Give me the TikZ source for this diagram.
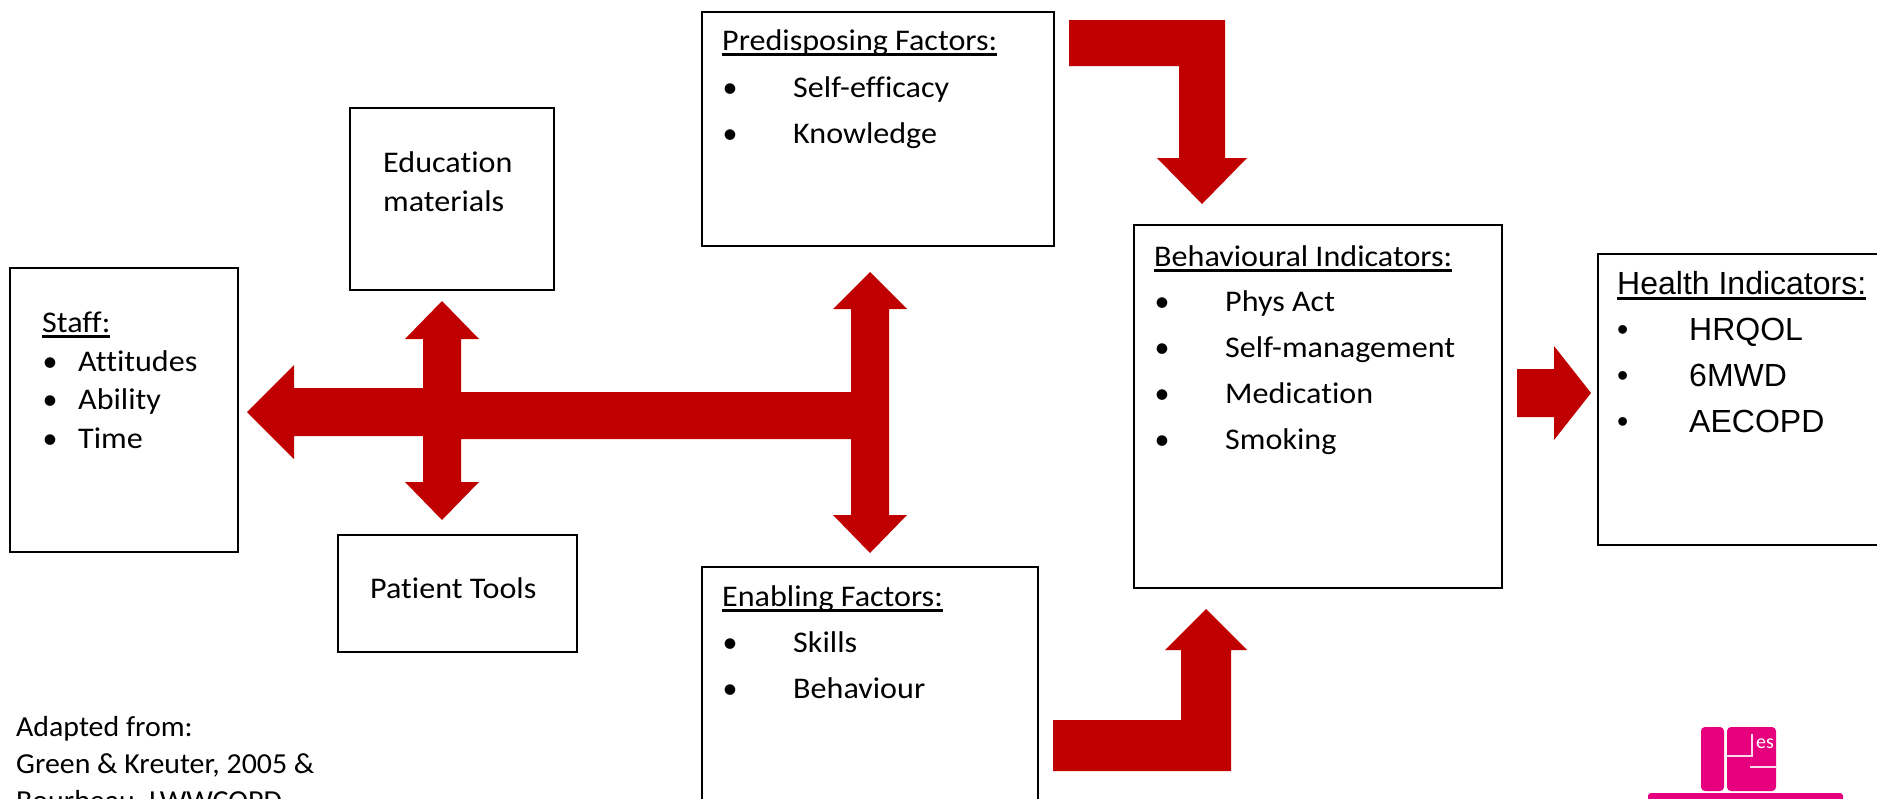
\documentclass[tikz,border=0pt]{standalone}
\usepackage{fontspec}
\setmainfont{Carlito}
\newfontfamily\bodyf[FakeStretch=1.07,Ligatures=NoCommon]{Carlito}
\newfontfamily\notef[FakeStretch=1.03,Ligatures=NoCommon]{Carlito}
\newfontfamily\arialf{Liberation Sans}
\definecolor{arrowred}{HTML}{C00000}
\definecolor{logopink}{HTML}{E6007E}
\newcommand{\ulbl}[1]{\setbox0\hbox{#1}\rlap{\vrule width\wd0 height -2.4pt depth 5.2pt}#1}
\tikzset{
  boxnode/.style={draw=black,line width=1.8pt,outer sep=0pt,fill=white,anchor=north west,inner sep=0pt},
  lbl/.style={anchor=base west,inner sep=0pt,yshift=-0.8pt,font=\bodyf\fontsize{30}{36}\selectfont},
  bul/.style={anchor=base west,inner sep=0pt,xshift=0.5pt,yshift=-0.8pt,font=\fontsize{30}{36}\selectfont},
  note/.style={anchor=base west,inner sep=0pt,font=\notef\fontsize{29}{35}\selectfont},
  hlbl/.style={anchor=base west,inner sep=0pt,yshift=-0.8pt,font=\arialf\fontsize{32}{38}\selectfont},
  hbul/.style={anchor=base west,inner sep=0pt,yshift=-0.8pt,font=\arialf\fontsize{32}{38}\selectfont},
  redshape/.style={fill=arrowred,draw=none},
  pink/.style={fill=logopink,draw=none,rounded corners=4pt},
  logoline/.style={draw=white!85!logopink,line width=1.2pt}
}
\newcommand{\boxat}[5]{\node[boxnode,minimum width=#4pt,minimum height=#5pt] (#1) at (#2,#3) {};}
\begin{document}
\begin{tikzpicture}[x=1pt,y=-1pt]
\useasboundingbox (0,0) rectangle (1877,798);
\clip (0,0) rectangle (1877,798);
% boxes
\boxat{staff}{10}{268}{228}{284}
\boxat{edu}{350}{108}{204}{182}
\boxat{tools}{338}{535}{239}{117}
\boxat{pre}{702}{12}{352}{234}
\boxat{ena}{702}{567}{336}{300}
\boxat{beh}{1134}{225}{368}{363}
\boxat{hea}{1598}{254}{320}{291}
% arrows
\fill[redshape] (247,412) -- (294,365) -- (294,388) -- (423,388) -- (423,339) -- (405,339) -- (442,301) -- (479,339) -- (461,339) -- (461,392) -- (851,392) -- (851,309) -- (833,309) -- (870,272) -- (907,309) -- (889,309) -- (889,515) -- (907,515) -- (870,553) -- (833,515) -- (851,515) -- (851,439) -- (461,439) -- (461,482) -- (479,482) -- (442,520) -- (405,482) -- (423,482) -- (423,436) -- (294,436) -- (294,459) -- cycle;
\fill[redshape] (1069,20) -- (1225,20) -- (1225,158) -- (1247,158) -- (1202,204) -- (1157,158) -- (1179,158) -- (1179,66) -- (1069,66) -- cycle;
\fill[redshape] (1053,771) -- (1231,771) -- (1231,650) -- (1247,650) -- (1206,609) -- (1165,650) -- (1181,650) -- (1181,720) -- (1053,720) -- cycle;
\fill[redshape] (1517,369) -- (1554,369) -- (1554,346) -- (1591,393) -- (1554,440) -- (1554,417) -- (1517,417) -- cycle;
% staff
\node[lbl] (t1) at (42,332) {\ulbl{Staff:}};
\node[bul] (t1a) at (42,371) {•};
\node[lbl] (t1b) at (78,371) {Attitudes};
\node[bul] (t1c) at (42,409) {•};
\node[lbl] (t1d) at (78,409) {Ability};
\node[bul] (t1e) at (42,448) {•};
\node[lbl] (t1f) at (78,448) {Time};
% education
\node[lbl] (t2) at (383,172) {Education};
\node[lbl] (t2a) at (383,211) {materials};
\node[lbl] (t3) at (370,598) {Patient Tools};
% predisposing
\node[lbl] (t4) at (722,50) {\ulbl{Predisposing Factors:}};
\node[bul] (t4a) at (722,97) {•};
\node[lbl] (t4b) at (793,97) {Self-efficacy};
\node[bul] (t4c) at (722,143) {•};
\node[lbl] (t4d) at (793,143) {Knowledge};
% enabling
\node[lbl] (t5) at (722,606) {\ulbl{Enabling Factors:}};
\node[bul] (t5a) at (722,652) {•};
\node[lbl] (t5b) at (793,652) {Skills};
\node[bul] (t5c) at (722,698) {•};
\node[lbl] (t5d) at (793,698) {Behaviour};
% behavioural
\node[lbl] (t6) at (1154,266) {\ulbl{Behavioural Indicators:}};
\node[bul] (t6a) at (1154,311) {•};
\node[lbl] (t6b) at (1225,311) {Phys Act};
\node[bul] (t6c) at (1154,357) {•};
\node[lbl] (t6d) at (1225,357) {Self-management};
\node[bul] (t6e) at (1154,403) {•};
\node[lbl] (t6f) at (1225,403) {Medication};
\node[bul] (t6g) at (1154,449) {•};
\node[lbl] (t6h) at (1225,449) {Smoking};
% health
\node[hlbl] (t7) at (1617,294) {\ulbl{Health Indicators:}};
\node[hbul] (t7a) at (1617,340) {•};
\node[hlbl] (t7b) at (1689,340) {HRQOL};
\node[hbul] (t7c) at (1617,386) {•};
\node[hlbl] (t7d) at (1689,386) {6MWD};
\node[hbul] (t7e) at (1617,432) {•};
\node[hlbl] (t7f) at (1689,432) {AECOPD};
% adapted
\node[note] (t8) at (16,736) {Adapted from:};
\node[note] (t8a) at (16,773) {Green \& Kreuter, 2005 \&};
\node[note] (t8b) at (16,810) {Bourbeau, LWWCOPD};
% logo
\fill[pink] (1701,727) rectangle (1724,791);
\fill[pink] (1727,727) rectangle (1776,791);
\draw[logoline] (1752,734) -- (1752,756) -- (1727,756);
\draw[logoline] (1750,767) -- (1777,767);
\fill[logopink,rounded corners=3pt] (1648,793) rectangle (1843,810);
\node[anchor=base west,inner sep=0pt,text=white,font=\fontsize{20}{20}\selectfont] (t9) at (1756,748) {es};
\end{tikzpicture}
\end{document}
